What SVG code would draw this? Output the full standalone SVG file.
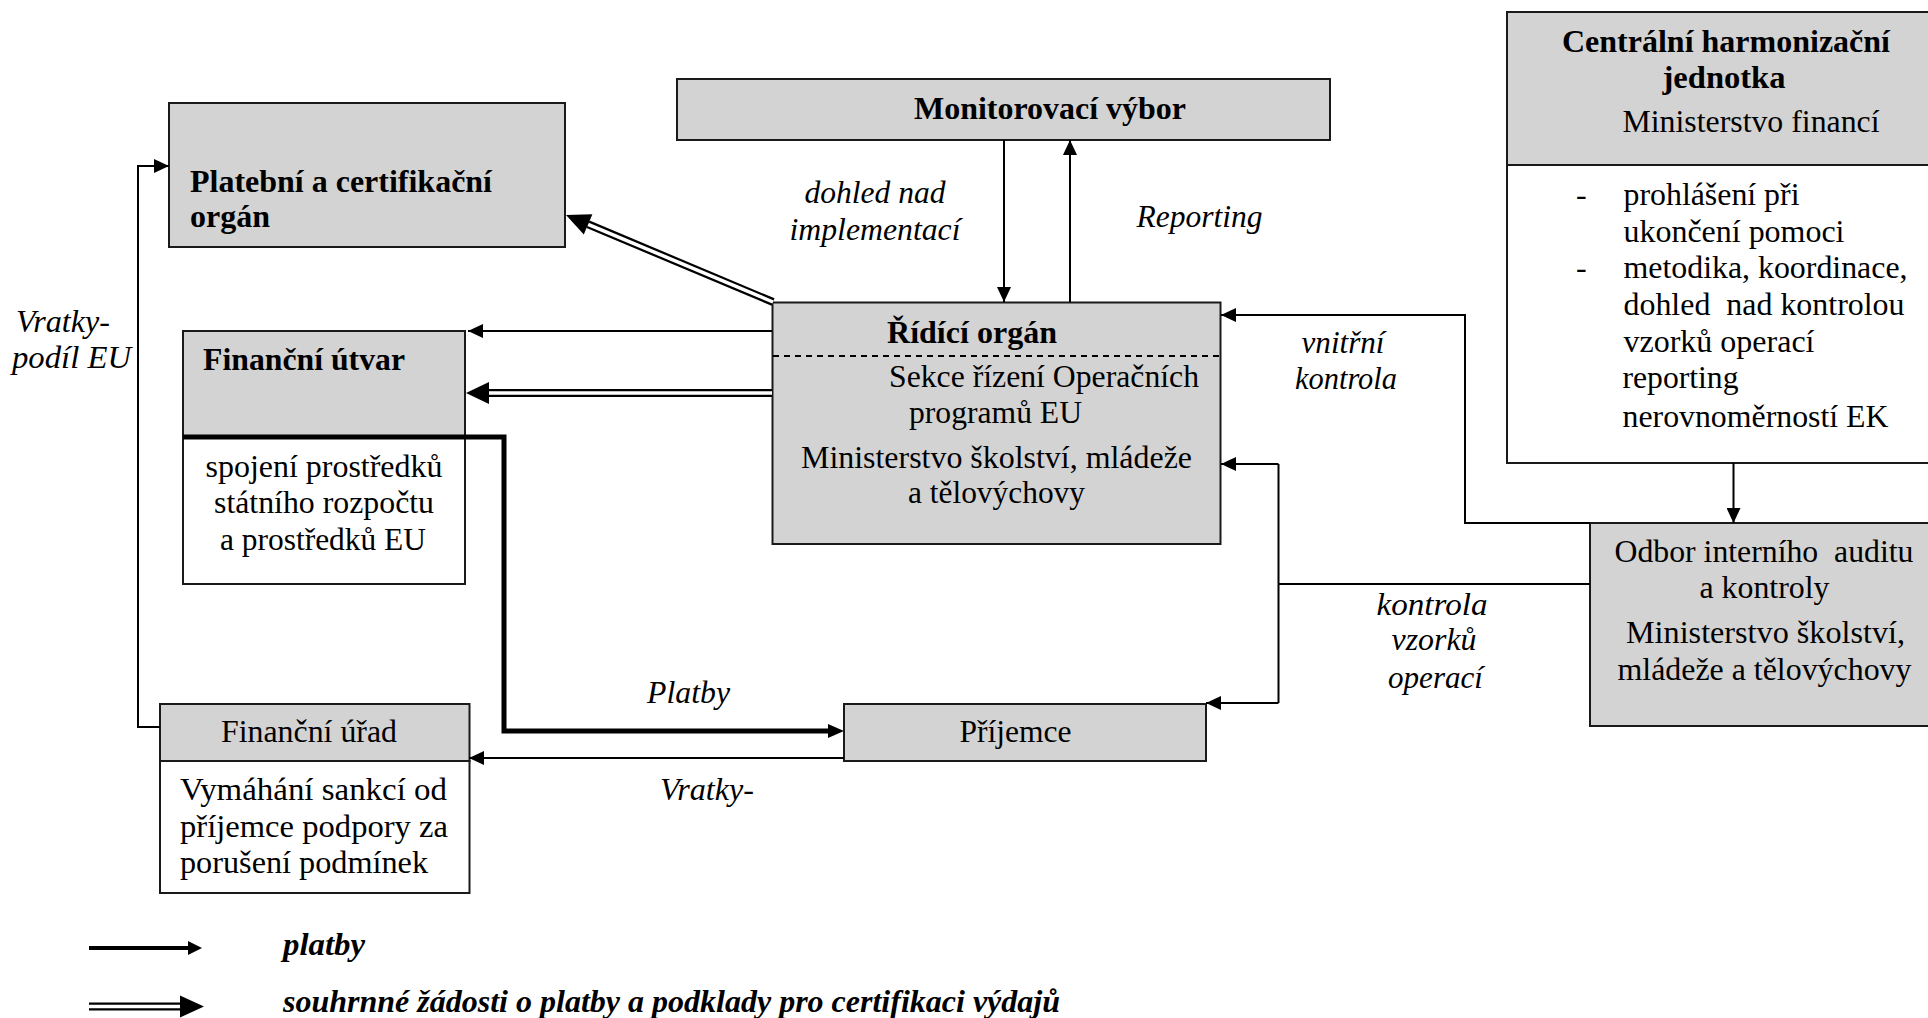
<svg xmlns="http://www.w3.org/2000/svg" width="1928" height="1018" viewBox="0 0 1928 1018">
<defs>
<style>
text{font-family:'Liberation Serif','Times New Roman',Times,serif;font-size:32px;fill:#000}
.b{font-weight:bold}
.i{font-style:italic}
.bi{font-weight:bold;font-style:italic}
.m{text-anchor:middle}
.box{fill:#d3d3d3;stroke:#1a1a1a;stroke-width:2}
.wbox{fill:#fff;stroke:#1a1a1a;stroke-width:2}
.ln{fill:none;stroke:#000;stroke-width:2}
.dash{fill:none;stroke:#000;stroke-width:2;stroke-dasharray:6 5}
.thk{fill:none;stroke:#000;stroke-width:5}
.dblB{fill:none;stroke:#000;stroke-width:8}
.dblW{fill:none;stroke:#fff;stroke-width:3.5}
.ah{fill:#000}
</style>
<marker id="a" markerUnits="userSpaceOnUse" viewBox="0 0 15 14" refX="15" refY="7" markerWidth="15" markerHeight="14" orient="auto"><path d="M0,0 L15,7 L0,14 z" fill="#000"/></marker>
<marker id="at" markerUnits="userSpaceOnUse" viewBox="0 0 16 14" refX="1" refY="7" markerWidth="16" markerHeight="14" orient="auto"><path d="M0,0 L16,7 L0,14 z" fill="#000"/></marker>
</defs>
<rect width="1928" height="1018" fill="#fff"/>

<g id="monitorovaci-vybor">
<rect class="box" x="677" y="79" width="653" height="61"/>
<text class="b m" x="1050" y="119" textLength="272" lengthAdjust="spacingAndGlyphs">Monitorovací výbor</text>
</g>

<g id="platebni-organ">
<rect class="box" x="169" y="103" width="396" height="144"/>
<text class="b" x="190" y="192" textLength="302" lengthAdjust="spacingAndGlyphs">Platební a certifikační</text>
<text class="b" x="190" y="227" textLength="80" lengthAdjust="spacingAndGlyphs">orgán</text>
</g>

<g id="financni-utvar">
<rect class="box" x="183" y="331" width="282" height="106"/>
<rect class="wbox" x="183" y="437" width="282" height="147"/>
<text class="b" x="203" y="370" textLength="202" lengthAdjust="spacingAndGlyphs">Finanční útvar</text>
<text class="m" x="324" y="477" textLength="237" lengthAdjust="spacingAndGlyphs">spojení prostředků</text>
<text class="m" x="324" y="513" textLength="220" lengthAdjust="spacingAndGlyphs">státního rozpočtu</text>
<text class="m" x="323" y="550" textLength="206" lengthAdjust="spacingAndGlyphs">a prostředků EU</text>
</g>

<g id="ridici-organ">
<rect class="box" x="772.5" y="302.5" width="448" height="241.5"/>
<line class="dash" x1="773" y1="356" x2="1220" y2="356"/>
<text class="b m" x="972" y="343" textLength="170" lengthAdjust="spacingAndGlyphs">Řídící orgán</text>
<text class="m" x="1044" y="387" textLength="310" lengthAdjust="spacingAndGlyphs">Sekce řízení Operačních</text>
<text class="m" x="995.5" y="423" textLength="173" lengthAdjust="spacingAndGlyphs">programů EU</text>
<text class="m" x="996.5" y="468" textLength="391" lengthAdjust="spacingAndGlyphs">Ministerstvo školství, mládeže</text>
<text class="m" x="996.5" y="503" textLength="177" lengthAdjust="spacingAndGlyphs">a tělovýchovy</text>
</g>

<g id="centralni-harmonizacni-jednotka">
<rect class="box" x="1507" y="12" width="440" height="153"/>
<rect class="wbox" x="1507" y="165" width="440" height="298"/>
<text class="b m" x="1726" y="52" textLength="328" lengthAdjust="spacingAndGlyphs">Centrální harmonizační</text>
<text class="b m" x="1724" y="88" textLength="123" lengthAdjust="spacingAndGlyphs">jednotka</text>
<text class="m" x="1751" y="132" textLength="257" lengthAdjust="spacingAndGlyphs">Ministerstvo financí</text>
<text x="1576" y="205">-</text>
<text x="1623.5" y="205" textLength="176" lengthAdjust="spacingAndGlyphs">prohlášení při</text>
<text x="1623.5" y="242" textLength="221" lengthAdjust="spacingAndGlyphs">ukončení pomoci</text>
<text x="1576" y="278">-</text>
<text x="1623.5" y="278" textLength="284" lengthAdjust="spacingAndGlyphs">metodika, koordinace,</text>
<text x="1623.5" y="315" textLength="281" lengthAdjust="spacingAndGlyphs" xml:space="preserve">dohled  nad kontrolou</text>
<text x="1623.5" y="352" textLength="191" lengthAdjust="spacingAndGlyphs">vzorků operací</text>
<text x="1622.5" y="388" textLength="116" lengthAdjust="spacingAndGlyphs">reporting</text>
<text x="1622.5" y="427" textLength="266" lengthAdjust="spacingAndGlyphs">nerovnoměrností EK</text>
</g>

<g id="odbor-interniho-auditu">
<rect class="box" x="1590" y="523" width="357" height="203"/>
<text class="m" x="1764" y="562" textLength="299" lengthAdjust="spacingAndGlyphs" xml:space="preserve">Odbor interního  auditu</text>
<text class="m" x="1764.5" y="598" textLength="130" lengthAdjust="spacingAndGlyphs">a kontroly</text>
<text class="m" x="1765.5" y="643" textLength="279" lengthAdjust="spacingAndGlyphs">Ministerstvo školství,</text>
<text class="m" x="1764.5" y="680" textLength="294" lengthAdjust="spacingAndGlyphs">mládeže a tělovýchovy</text>
</g>

<g id="financni-urad">
<rect class="box" x="160" y="704" width="309.5" height="57"/>
<rect class="wbox" x="160" y="761" width="309.5" height="132"/>
<text class="m" x="309" y="742" textLength="176" lengthAdjust="spacingAndGlyphs">Finanční úřad</text>
<text x="180" y="800" textLength="267" lengthAdjust="spacingAndGlyphs">Vymáhání sankcí od</text>
<text x="180" y="837" textLength="268" lengthAdjust="spacingAndGlyphs">příjemce podpory za</text>
<text x="180" y="873" textLength="248" lengthAdjust="spacingAndGlyphs">porušení podmínek</text>
</g>

<g id="prijemce">
<rect class="box" x="844" y="704" width="362" height="57"/>
<text class="m" x="1015.5" y="742" textLength="112" lengthAdjust="spacingAndGlyphs">Příjemce</text>
</g>

<g id="connectors">
<path class="ln" d="M1004,140 V302" marker-end="url(#a)"/>
<path class="ln" d="M1070,302 V140" marker-end="url(#a)"/>
<path class="ln" d="M772,331 H468" marker-end="url(#a)"/>
<path class="dblB" d="M773,302 L588.1,224.3"/>
<path class="dblW" d="M773,302 L588.1,224.3"/>
<polygon class="ah" points="566,215 592.4,214.2 583.8,234.4"/>
<path class="dblB" d="M772,393 H489"/>
<path class="dblW" d="M772,393 H489"/>
<polygon class="ah" points="466,393 489,382 489,404"/>
<path class="thk" d="M183,437 H504 V731 H829" marker-end="url(#at)"/>
<path class="ln" d="M844,758 H469" marker-end="url(#a)"/>
<path class="ln" d="M160,727 H138 V166 H169" marker-end="url(#a)"/>
<path class="ln" d="M1278.5,464 V703"/>
<path class="ln" d="M1278.5,464 H1221" marker-end="url(#a)"/>
<path class="ln" d="M1278.5,703 H1206" marker-end="url(#a)"/>
<path class="ln" d="M1278.5,584 H1590"/>
<path class="ln" d="M1590,523 H1465 V315 H1221" marker-end="url(#a)"/>
<path class="ln" d="M1733.5,463 V523" marker-end="url(#a)"/>
</g>

<g id="connector-labels">
<text class="i m" x="875" y="203" textLength="141" lengthAdjust="spacingAndGlyphs">dohled nad</text>
<text class="i m" x="875" y="240" textLength="171" lengthAdjust="spacingAndGlyphs">implementací</text>
<text class="i m" x="1199.5" y="227" textLength="126" lengthAdjust="spacingAndGlyphs">Reporting</text>
<text class="i m" x="1343" y="353" textLength="83" lengthAdjust="spacingAndGlyphs">vnitřní</text>
<text class="i m" x="1346" y="389" textLength="102" lengthAdjust="spacingAndGlyphs">kontrola</text>
<text class="i" x="16" y="332" textLength="94" lengthAdjust="spacingAndGlyphs">Vratky-</text>
<text class="i" x="12" y="368" textLength="119" lengthAdjust="spacingAndGlyphs">podíl EU</text>
<text class="i m" x="1432" y="615" textLength="111" lengthAdjust="spacingAndGlyphs">kontrola</text>
<text class="i m" x="1434" y="650" textLength="85" lengthAdjust="spacingAndGlyphs">vzorků</text>
<text class="i m" x="1435.5" y="688" textLength="95" lengthAdjust="spacingAndGlyphs">operací</text>
<text class="i m" x="688.5" y="703" textLength="83" lengthAdjust="spacingAndGlyphs">Platby</text>
<text class="i m" x="707" y="800" textLength="94" lengthAdjust="spacingAndGlyphs">Vratky-</text>
</g>

<g id="legend">
<path d="M89,948 H189" fill="none" stroke="#000" stroke-width="4"/>
<polygon class="ah" points="188,941 202,948 188,955"/>
<path class="dblB" d="M89,1006.5 H181"/>
<path class="dblW" d="M89,1006.5 H181"/>
<polygon class="ah" points="180,995.5 204,1006.5 180,1017.5"/>
<text class="bi" x="283" y="955" textLength="82" lengthAdjust="spacingAndGlyphs">platby</text>
<text class="bi" x="283" y="1012" textLength="777" lengthAdjust="spacingAndGlyphs">souhrnné žádosti o platby a podklady pro certifikaci výdajů</text>
</g>
</svg>
